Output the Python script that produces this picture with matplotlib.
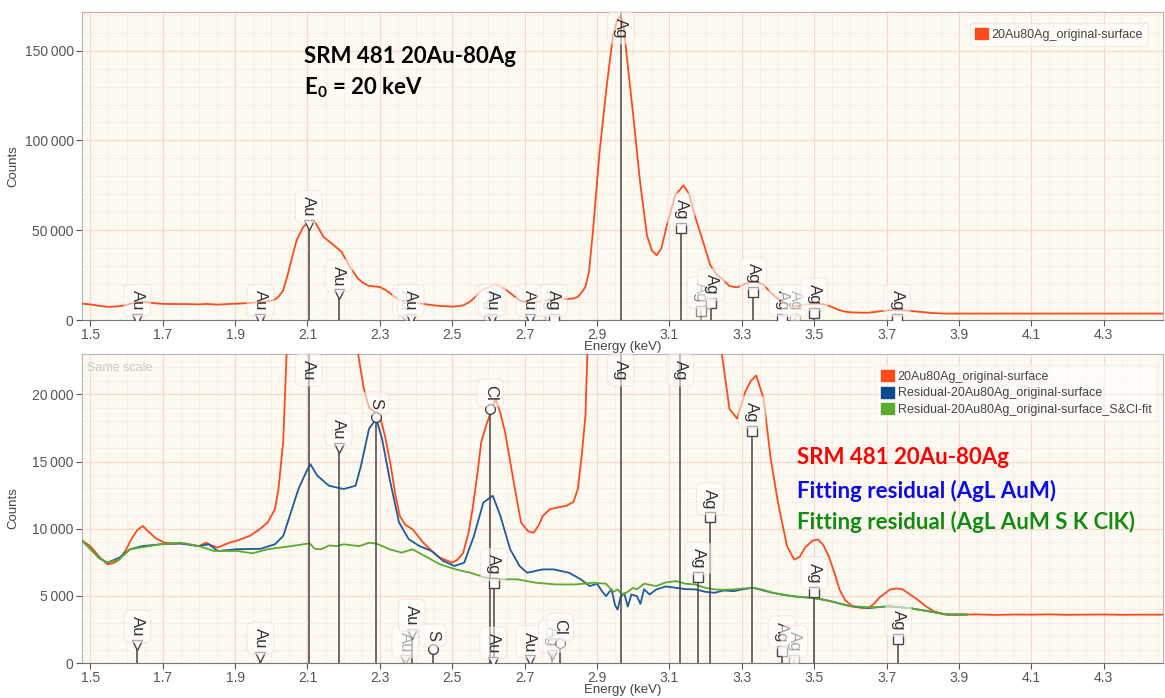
import numpy as np
import matplotlib
matplotlib.use("Agg")
import matplotlib.pyplot as plt
from matplotlib.patches import Patch
from matplotlib.ticker import MultipleLocator, FuncFormatter

# spectrum: (energy keV, counts)
orange = np.array([
    (1.478, 9090), (1.50, 8700), (1.525, 7900), (1.547, 7350), (1.565, 7450), (1.58, 7700),
    (1.60, 8500), (1.615, 9300), (1.63, 9900), (1.645, 10200), (1.66, 9800), (1.68, 9300),
    (1.705, 8960), (1.73, 8900), (1.76, 8900), (1.80, 8700), (1.82, 8960), (1.835, 8750),
    (1.853, 8600), (1.87, 8800), (1.885, 8960), (1.91, 9150), (1.94, 9460), (1.965, 9900),
    (1.99, 10460), (2.01, 11450), (2.02, 13000), (2.033, 16500), (2.045, 25000), (2.055, 33000),
    (2.07, 44400), (2.088, 51800), (2.107, 55200), (2.121, 54600), (2.144, 46300), (2.167, 42600),
    (2.194, 38000), (2.217, 29600), (2.24, 23000), (2.255, 20500), (2.27, 19000), (2.285, 18700),
    (2.30, 18400), (2.315, 16800), (2.33, 14700), (2.343, 12500), (2.355, 10950), (2.37, 10300),
    (2.39, 9960), (2.42, 8960), (2.445, 8300), (2.466, 7840), (2.50, 7470), (2.515, 7700),
    (2.53, 8200), (2.545, 9700), (2.556, 11450), (2.57, 14200), (2.58, 16430), (2.595, 17800),
    (2.61, 18900), (2.62, 19670), (2.633, 18600), (2.646, 17180), (2.66, 15000), (2.67, 13450),
    (2.69, 10460), (2.71, 9800), (2.725, 9700), (2.74, 10300), (2.75, 10950), (2.77, 11450),
    (2.795, 11600), (2.815, 11700), (2.835, 12000), (2.847, 12950), (2.858, 15500), (2.868, 18400),
    (2.878, 27000), (2.889, 50000), (2.907, 93500), (2.926, 128900), (2.944, 158300), (2.956, 167000),
    (2.966, 169400), (2.974, 163000), (2.982, 147200), (3.001, 112200), (3.019, 76800), (3.038, 47200),
    (3.052, 38500), (3.065, 36100), (3.078, 40000), (3.093, 52800), (3.116, 69400), (3.139, 75000),
    (3.155, 70000), (3.167, 60200), (3.19, 45600), (3.213, 30600), (3.23, 25500), (3.245, 23000),
    (3.266, 18900), (3.287, 18200), (3.31, 20200), (3.325, 21000), (3.34, 21400), (3.36, 19700),
    (3.38, 15200), (3.40, 11950), (3.425, 8700), (3.445, 7700), (3.46, 7900), (3.475, 8600),
    (3.495, 9100), (3.51, 9200), (3.525, 8800), (3.54, 7970), (3.555, 6800), (3.57, 5480),
    (3.585, 4700), (3.605, 4230), (3.63, 4100), (3.65, 4100), (3.665, 4400), (3.68, 4860),
    (3.71, 5480), (3.73, 5550), (3.745, 5480), (3.765, 5100), (3.785, 4730), (3.81, 4200),
    (3.83, 3860), (3.86, 3610), (3.90, 3600), (3.95, 3620), (4.00, 3580), (4.05, 3610),
    (4.10, 3600), (4.15, 3620), (4.20, 3590), (4.25, 3600), (4.30, 3610), (4.35, 3590),
    (4.40, 3600), (4.465, 3600),
])

blue = np.array([
    (1.478, 9090), (1.50, 8500), (1.525, 7800), (1.547, 7470), (1.58, 7840), (1.61, 8470),
    (1.642, 8700), (1.695, 8840), (1.748, 8900), (1.80, 8700), (1.827, 8840), (1.853, 8340),
    (1.906, 8470), (1.97, 8500), (2.01, 8840), (2.033, 9460), (2.054, 11200), (2.075, 12950),
    (2.096, 14200), (2.108, 14800), (2.127, 13950), (2.159, 13200), (2.20, 12950), (2.233, 13200),
    (2.248, 14700), (2.27, 17430), (2.29, 18180), (2.306, 16700), (2.327, 13700), (2.353, 10460),
    (2.38, 9210), (2.41, 8700), (2.443, 8340), (2.475, 7600), (2.506, 7220), (2.533, 7470),
    (2.56, 9460), (2.586, 11950), (2.612, 12450), (2.633, 10950), (2.66, 8470), (2.686, 7220),
    (2.707, 6720), (2.75, 6970), (2.78, 6970), (2.823, 6720), (2.855, 6230), (2.88, 5730),
    (2.90, 5900), (2.915, 5300), (2.925, 4980), (2.94, 5500), (2.95, 4300), (2.957, 3980),
    (2.965, 4900), (2.975, 5200), (2.985, 4200), (2.995, 5100), (3.01, 4980), (3.02, 4400),
    (3.03, 5500), (3.045, 5100), (3.064, 5480), (3.09, 5700), (3.118, 5600), (3.145, 5500),
    (3.171, 5480), (3.20, 5300), (3.225, 5230), (3.25, 5400), (3.278, 5350), (3.305, 5500),
    (3.332, 5600), (3.36, 5400), (3.385, 5230), (3.41, 5100), (3.439, 4980), (3.465, 4900),
    (3.493, 4860), (3.52, 4750), (3.546, 4600), (3.575, 4400), (3.60, 4230), (3.654, 4100),
    (3.707, 4230), (3.761, 4100), (3.814, 3860), (3.868, 3610), (3.921, 3610),
])

green = np.array([
    (1.478, 9090), (1.50, 8500), (1.525, 7800), (1.547, 7470), (1.58, 7720), (1.61, 8470),
    (1.695, 8840), (1.748, 8960), (1.80, 8700), (1.842, 8340), (1.906, 8340), (1.948, 8170),
    (1.99, 8470), (2.054, 8700), (2.106, 8910), (2.12, 8500), (2.138, 8470), (2.16, 8750),
    (2.18, 8700), (2.20, 8840), (2.243, 8700), (2.27, 8950), (2.29, 8890), (2.327, 8470),
    (2.36, 8220), (2.39, 8470), (2.424, 7970), (2.466, 7350), (2.51, 6970), (2.55, 6720),
    (2.593, 6350), (2.636, 6230), (2.68, 6230), (2.73, 5980), (2.785, 5850), (2.84, 5850),
    (2.89, 5980), (2.925, 5900), (2.945, 5300), (2.957, 5480), (2.97, 5100), (2.985, 5300),
    (3.0, 5600), (3.01, 5480), (3.03, 5900), (3.064, 5730), (3.09, 6000), (3.118, 6100),
    (3.145, 5900), (3.171, 5850), (3.20, 5600), (3.225, 5480), (3.25, 5450), (3.278, 5480),
    (3.305, 5550), (3.332, 5600), (3.36, 5450), (3.385, 5230), (3.439, 4980), (3.493, 4860),
    (3.546, 4600), (3.60, 4230), (3.654, 4150), (3.707, 4200), (3.761, 4100), (3.814, 3860),
    (3.868, 3610), (3.92, 3610),
])

# KLM markers: (energy, marker height, label, symbol, alpha); None = runs to top
top_marks = [
    (1.63, 600, "Au", "v", 1), (1.97, 600, "Au", "v", 1), (2.103, 52800, "Au", "v", 1),
    (2.186, 14300, "Au", "v", 1), (2.372, 600, "Au", "v", 0.35), (2.385, 600, "Au", "v", 1),
    (2.602, 600, "Ag", "s", 0.35), (2.61, 600, "Au", "v", 1), (2.714, 600, "Au", "v", 1),
    (2.77, 600, "Ag", "s", 0.35), (2.78, 600, "Ag", "s", 1), (2.966, None, "Ag", "s", 1),
    (3.132, 51300, "Ag", "s", 1), (3.186, 5000, "Ag", "s", 0.6), (3.215, 9300, "Ag", "s", 1),
    (3.331, 15700, "Ag", "s", 1), (3.412, 600, "Ag", "s", 1), (3.447, 600, "Ag", "s", 0.35),
    (3.50, 4000, "Ag", "s", 1), (3.729, 600, "Ag", "s", 1),
]
bottom_marks = [
    (1.63, 1340, "Au", "v", 1), (1.97, 450, "Au", "v", 1), (2.103, None, "Au", "v", 1),
    (2.186, 16000, "Au", "v", 1), (2.288, 18300, "S", "o", 1), (2.37, 200, "Au", "v", 0.4),
    (2.388, 2160, "Au", "v", 1), (2.446, 1020, "S", "o", 1), (2.605, 18900, "Cl", "o", 1),
    (2.615, 5950, "Ag", "s", 1), (2.613, 100, "Au", "v", 1), (2.714, 200, "Au", "v", 1),
    (2.775, 600, "Ag", "v", 0.4), (2.798, 1470, "Cl", "o", 1), (2.966, None, "Ag", "s", 1),
    (3.13, None, "Ag", "s", 1), (3.18, 6400, "Ag", "s", 1), (3.212, 10840, "Ag", "s", 1),
    (3.328, 17300, "Ag", "s", 1), (3.41, 920, "Ag", "s", 1), (3.445, 220, "Ag", "s", 0.4),
    (3.50, 5320, "Ag", "s", 1), (3.732, 1790, "Ag", "s", 1),
]

series_names = ["20Au80Ag_original-surface", "Residual-20Au80Ag_original-surface",
                "Residual-20Au80Ag_original-surface_S&Cl-fit"]
c_orange, c_blue, c_green = "#ff4a1c", "#1f5a9e", "#5cab2e"
x_ticks = [1.5, 1.7, 1.9, 2.1, 2.3, 2.5, 2.7, 2.9, 3.1, 3.3, 3.5, 3.7, 3.9, 4.1, 4.3]

plt.rcParams["font.family"] = ["Liberation Sans", "DejaVu Sans"]
plt.rcParams["mathtext.fontset"] = "custom"
plt.rcParams["mathtext.rm"] = "Lato:bold"
plt.rcParams["mathtext.it"] = "Lato:bold"

fig = plt.figure(figsize=(11.65, 6.98), dpi=100)
ax1 = fig.add_axes([0.0704, 0.5415, 0.9276, 0.4413])
ax2 = fig.add_axes([0.0704, 0.0501, 0.9276, 0.4427])


def thousands(v, pos):
    return f"{int(v):,}".replace(",", "\u2009")


def style(ax, ymax, ymajor, yminor):
    ax.set_facecolor("#fdfbf1")
    ax.set_xlim(1.477, 4.463)
    ax.set_ylim(0, ymax)
    ax.set_xticks(x_ticks)
    ax.set_xticklabels([f"{t:.1f}" for t in x_ticks])
    ax.xaxis.set_minor_locator(MultipleLocator(0.05))
    ax.yaxis.set_major_locator(MultipleLocator(ymajor))
    ax.yaxis.set_minor_locator(MultipleLocator(yminor))
    ax.yaxis.set_major_formatter(FuncFormatter(thousands))
    ax.grid(which="major", color="#f8d6d0", lw=0.9)
    ax.grid(which="minor", color="#fcebe5", lw=0.6)
    ax.set_axisbelow(True)
    ax.tick_params(which="major", labelsize=10, colors="#555555", length=4, pad=2)
    ax.tick_params(which="minor", length=0)
    for s in ax.spines.values():
        s.set_color("#b5b5b5")
    ax.spines["bottom"].set_color("#777777")
    ax.set_xlabel("Energy (keV)", fontsize=9.5, color="#444444", labelpad=-1)
    ax.set_ylabel("Counts", fontsize=9.5, color="#444444")
    ax.yaxis.set_label_coords(-0.058, 0.5)


def draw_marks(ax, marks):
    for e, h, lbl, mk, a in marks:
        if h is None:
            ax.axvline(e, color="#444444", lw=1.1, alpha=a, zorder=4)
            ax.annotate(lbl, xy=(e, 1), xycoords=("data", "axes fraction"), xytext=(0, -4),
                        textcoords="offset points", rotation=-90, ha="center", va="top",
                        fontsize=12, color="#333333", alpha=a, zorder=6,
                        bbox=dict(boxstyle="round,pad=0.35", fc="white", ec="#f1d9d2",
                                  lw=0.8, alpha=0.55))
        else:
            ax.plot([e, e], [0, h], color="#444444", lw=1.1, alpha=a, zorder=4)
            ax.plot([e], [h], marker=mk, ms=7, mfc="white", mec="#444444", mew=1.0,
                    alpha=a, zorder=5)
            ax.annotate(lbl, xy=(e, h), xytext=(0, 6), textcoords="offset points",
                        rotation=-90, ha="center", va="bottom", fontsize=12,
                        color="#333333", alpha=a, zorder=6,
                        bbox=dict(boxstyle="round,pad=0.35", fc="white", ec="#f1d9d2",
                                  lw=0.8, alpha=0.55))


# top panel
style(ax1, 171500, 50000, 10000)
ax1.plot(orange[:, 0], orange[:, 1], color=c_orange, lw=1.3, zorder=3)
draw_marks(ax1, top_marks)
ax1.text(0.205, 0.855, "SRM 481 20Au-80Ag", transform=ax1.transAxes, fontsize=16,
         fontfamily="Lato", fontweight="bold", color="black", va="center")
ax1.text(0.205, 0.755, "E$_{0}$ = 20 keV", transform=ax1.transAxes, fontsize=16,
         fontfamily="Lato", fontweight="bold", color="black", va="center")
leg1 = ax1.legend(handles=[Patch(color=c_orange, label=series_names[0])], loc="upper right",
                  bbox_to_anchor=(0.992, 0.985), fontsize=9, handlelength=1.0,
                  handleheight=1.0, handletextpad=0.3, framealpha=0.6, edgecolor="#f1e2dc",
                  fancybox=True)
for t in leg1.get_texts():
    t.set_color("#444444")

# bottom panel
style(ax2, 23000, 5000, 1000)
ax2.plot(orange[:, 0], orange[:, 1], color=c_orange, lw=1.3, zorder=3)
ax2.plot(blue[:, 0], blue[:, 1], color=c_blue, lw=1.3, zorder=3)
ax2.plot(green[:, 0], green[:, 1], color=c_green, lw=1.3, zorder=3)
draw_marks(ax2, bottom_marks)
ax2.text(0.005, 0.975, "Same scale", transform=ax2.transAxes, fontsize=9,
         color="#c8c8c8", va="top")
ax2.text(0.662, 0.665, "SRM 481 20Au-80Ag", transform=ax2.transAxes, fontsize=16,
         fontfamily="Lato", fontweight="bold", color="#ff0000", va="center")
ax2.text(0.662, 0.558, "Fitting residual (AgL AuM)", transform=ax2.transAxes, fontsize=16,
         fontfamily="Lato", fontweight="bold", color="#0a0aee", va="center")
ax2.text(0.662, 0.455, "Fitting residual (AgL AuM S K ClK)", transform=ax2.transAxes,
         fontsize=16, fontfamily="Lato", fontweight="bold", color="#138a13", va="center")
leg2 = ax2.legend(handles=[Patch(color=c, label=n) for c, n in
                           zip([c_orange, "#0b4a8c", c_green], series_names)],
                  loc="upper right", bbox_to_anchor=(1.0, 0.985), fontsize=9,
                  handlelength=1.0, handleheight=1.0, handletextpad=0.3, labelspacing=0.3,
                  framealpha=0.5, edgecolor="#f5e8e4", fancybox=False)
for t in leg2.get_texts():
    t.set_color("#444444")

fig.savefig("out.png", dpi=100)
